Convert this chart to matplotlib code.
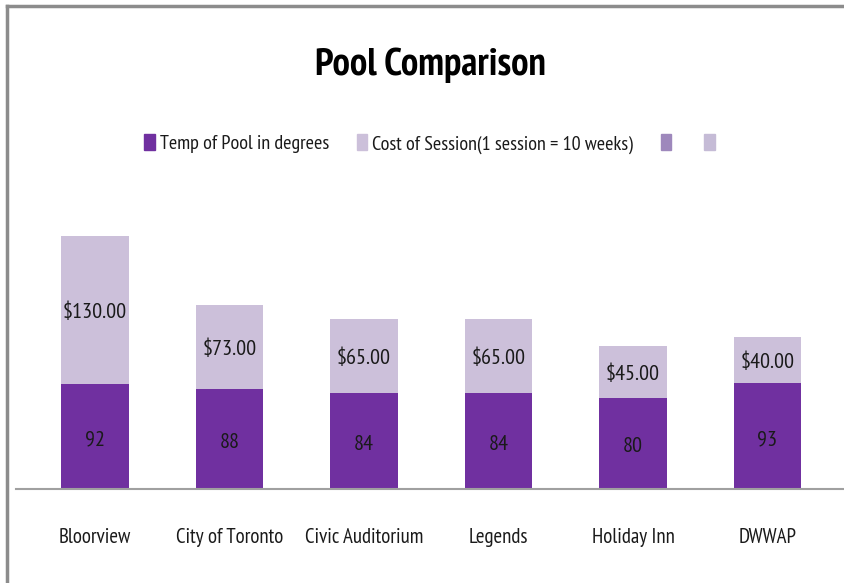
import matplotlib
matplotlib.use("Agg")
import matplotlib.pyplot as plt
from matplotlib.patches import Patch
from matplotlib.lines import Line2D
from matplotlib import font_manager

names = {f.name for f in font_manager.fontManager.ttflist}
fam = "Liberation Sans"
for cand in ["PT Sans Narrow", "Sofia Sans Condensed", "Fira Sans Extra Condensed", "Roboto Condensed"]:
    if cand in names:
        fam = cand
        break
plt.rcParams['font.family'] = [fam, 'DejaVu Sans']

categories = ["Bloorview", "City of Toronto", "Civic Auditorium", "Legends", "Holiday Inn", "DWWAP"]
temps = [92, 88, 84, 84, 80, 93]
costs = [130, 73, 65, 65, 45, 40]
title = "Pool Comparison"
legend_labels = ["Temp of Pool in degrees", "Cost of Session(1 session = 10 weeks)", "", ""]

dark = "#7030A0"
light = "#CCC0DA"
txt = "#1a1a1a"

W, H = 845, 583
fig = plt.figure(figsize=(W/100, H/100), dpi=100)

ax_left, ax_right = 27.75, 834.75
base_y = 489
scale = 1.14
ymax = 250
ax_h = ymax * scale
ax = fig.add_axes([ax_left/W, (H-base_y)/H, (ax_right-ax_left)/W, ax_h/H])
x = list(range(len(categories)))
ax.bar(x, temps, width=0.505, color=dark, zorder=2)
ax.bar(x, costs, width=0.505, bottom=temps, color=light, zorder=2)
for i in x:
    ax.text(i, temps[i]/2 - 3, f"{temps[i]}", ha="center", va="center", fontsize=16, color=txt)
    ax.text(i, temps[i] + costs[i]/2 - 2, f"${costs[i]:.2f}", ha="center", va="center", fontsize=16, color=txt)
ax.set_xlim(-0.5, len(categories)-0.5)
ax.set_ylim(0, ymax)
for s in ["top", "right", "left", "bottom"]:
    ax.spines[s].set_visible(False)
ax.set_yticks([])
ax.set_xticks(x)
ax.set_xticklabels(categories, fontsize=15, color=txt)
ax.tick_params(axis="x", length=0, pad=28)

fig.add_artist(Line2D([16/W, 1.0], [(H-base_y)/H]*2, color="#a0a0a0", lw=1.5))
fig.add_artist(Line2D([7/W, 1.0], [(H-6)/H]*2, color="#8c8c8c", lw=2.5))
fig.add_artist(Line2D([7/W, 7/W], [0, (H-6)/H], color="#8c8c8c", lw=2.5))

fig.text(430/W, 1-65/H, title, ha="center", va="center", fontsize=28, fontweight="bold", color="black")

handles = [Patch(color=dark), Patch(color=light), Patch(color="#9E88BC"), Patch(color="#C5BBD6")]
fig.legend(handles, legend_labels, loc="center", bbox_to_anchor=(432/W, 1-144/H), ncol=4,
           frameon=False, fontsize=14.5, handlelength=0.5, handleheight=0.85, handletextpad=0.25,
           columnspacing=1.4, labelcolor=txt)

fig.savefig("out.png", dpi=100, facecolor="white")
